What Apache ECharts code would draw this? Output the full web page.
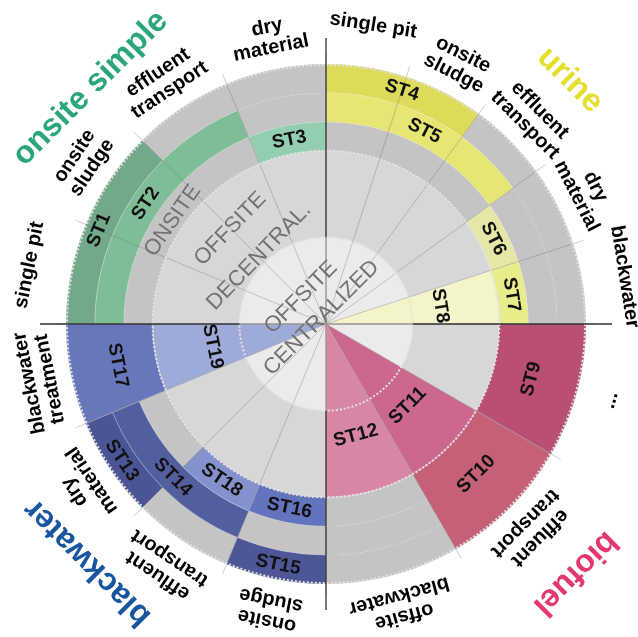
<!DOCTYPE html>
<html><head><meta charset="utf-8">
<style>html,body{margin:0;padding:0;background:#fff}#main{width:638px;height:637px}</style>
<script src="https://cdn.jsdelivr.net/npm/echarts@6/dist/echarts.min.js"></script>
</head><body><div id="main"></div>
<script>
// ---------------- data ----------------
const sectorNames = ['single pit','onsite\nsludge','effluent\ntransport','dry\nmaterial','blackwater',
  '...','effluent\ntransport','offsite\nblackwater',
  'onsite\nsludge','effluent\ntransport','dry\nmaterial','blackwater\ntreatment',
  'single pit','onsite\nsludge','effluent\ntransport','dry\nmaterial'];
const sectorStart = [0,18,36,54,72,90,120,150,180,202.5,225,247.5,270,292.5,315,337.5];
const sectorEnd   = [18,36,54,72,90,120,150,180,202.5,225,247.5,270,292.5,315,337.5,360];

const ringNames = ['OFFSITE\nCENTRALIZED','OFFSITE\nDECENTRAL.','ONSITE'];
const ringInner = [0,3,6,7,8];
const ringOuter = [3,6,7,8,9];

const stNames      = ['ST1','ST2','ST3','ST4','ST5','ST6','ST7','ST8','ST9','ST10','ST11','ST12','ST13','ST14','ST15','ST16','ST17','ST18','ST19'];
const stRingFrom   = [4,3,2,4,3,2,2,0,2,2,0,0,4,3,4,2,2,2,0];
const stRingTo     = [4,3,2,4,3,2,2,1,4,4,1,1,4,3,4,2,4,2,1];
const stSectorFrom = [12,12,15,0,0,3,4,4,5,6,6,7,10,9,8,8,11,9,11];
const stSectorTo   = [13,14,15,1,2,3,4,4,5,6,6,7,10,10,8,8,11,9,11];

const groupNames = ['urine','biofuel','blackwater','onsite simple'];
const groupStart = [0,90,180,270];
const groupEnd   = [90,180,270,360];

// ---------------- styles / layout ----------------
const FONT = "'Liberation Sans', Arial, Helvetica, sans-serif";
const ringColors = ['#ebebeb','#d7d7d7','#c4c4c4','#c4c4c4','#c4c4c4'];
const stColors = ['#71a989','#7ebd96','#93ceb1','#dcdb5a','#e6e673','#e6e6a6','#e8ec8b','#f3f4c7',
  '#b94f74','#c56176','#cc6890','#d885a6','#4b5494','#525e9e','#4d5697','#6373bd','#6877bc','#8591cd','#9eabd8'];
const groupColors = ['#e3df2b','#e4376f','#1a56a0','#2ba57b'];
const OUTER_LABEL_R = 10.83;
const groupLabelR = [11.94, 12.2, 11.67, 11.53];
const ringLabelLayout = [
  {r:0.76, a:318, rot:45, lh:29},
  {r:3.98, a:315, rot:46, lh:40},
  {r:6.4,  a:304, rot:55, lh:24}
];

// ---------------- helpers ----------------
function ctr(api){ return api.coord([0,0]); }
function pxR(api,c,v){ const p = api.coord([v,0]); return Math.hypot(p[0]-c[0], p[1]-c[1]); }
function phiOf(api,c,a){ const p = api.coord([1,a]); return Math.atan2(p[1]-c[1], p[0]-c[0]); }
function tangent(phi){ let r = -(phi + Math.PI/2); return Math.atan2(Math.sin(r), Math.cos(r)); }
function readable(phi){ let r = tangent(phi); if (r > Math.PI/2) r -= Math.PI; else if (r < -Math.PI/2) r += Math.PI; return r; }

const stRows = stNames.map((n,i) => [ringInner[stRingFrom[i]], ringOuter[stRingTo[i]], sectorStart[stSectorFrom[i]], sectorEnd[stSectorTo[i]], stRingFrom[i], stRingTo[i]]);

const chart = echarts.init(document.getElementById('main'), null, {renderer:'canvas'});
chart.setOption({
  animation:false,
  backgroundColor:'#ffffff',
  polar:{center:[326,324], radius:260},
  angleAxis:{type:'value', min:0, max:360, startAngle:90, clockwise:true, show:false},
  radiusAxis:{type:'value', min:0, max:9, show:false},
  series:[
    // base rings
    {type:'custom', coordinateSystem:'polar', silent:true, z:1,
     data: ringInner.map((v,i)=>[v, ringOuter[i]]),
     renderItem(params, api){
       const c = ctr(api);
       return {type:'ring', shape:{cx:c[0], cy:c[1], r0:pxR(api,c,api.value(0)), r:pxR(api,c,api.value(1))},
               style:{fill:ringColors[params.dataIndex]}};
     }},
    // ST segments
    {type:'custom', coordinateSystem:'polar', silent:true, z:2,
     data: stRows,
     renderItem(params, api){
       const c = ctr(api);
       let a0 = phiOf(api,c,api.value(2)), a1 = phiOf(api,c,api.value(3));
       while (a1 <= a0 + 1e-6) a1 += Math.PI*2;
       return {type:'sector', shape:{cx:c[0], cy:c[1], r0:pxR(api,c,api.value(0)), r:pxR(api,c,api.value(1)), startAngle:a0, endAngle:a1, clockwise:true},
               style:{fill:stColors[params.dataIndex], stroke:'rgba(255,255,255,0.3)', lineWidth:0.8}};
     }},
    // radial sector boundaries
    {type:'custom', coordinateSystem:'polar', silent:true, z:3,
     data: sectorStart.map(a=>[a]),
     renderItem(params, api){
       const a = api.value(0);
       const p0 = api.coord([0,a]), p1 = api.coord([9.38,a]);
       return {type:'line', shape:{x1:p0[0], y1:p0[1], x2:p1[0], y2:p1[1]}, style:{stroke:'rgba(110,110,110,0.35)', lineWidth:1}};
     }},
    // dotted ring edges
    {type:'custom', coordinateSystem:'polar', silent:true, z:4,
     data: [[3],[6],[9]],
     renderItem(params, api){
       const c = ctr(api);
       return {type:'circle', shape:{cx:c[0], cy:c[1], r:pxR(api,c,api.value(0)) - (params.dataIndex===2?1:0)},
               style:{fill:'none', stroke:'#e2e2e2', lineWidth:2, lineDash:[2,2]}};
     }},
    // quadrant axes
    {type:'custom', coordinateSystem:'polar', silent:true, z:5,
     data: groupStart.map(a=>[a]),
     renderItem(params, api){
       const a = api.value(0);
       const p0 = api.coord([0,a]), p1 = api.coord([3,a]), p2 = api.coord([9.9,a]);
       return {type:'group', children:[
         {type:'line', shape:{x1:p0[0],y1:p0[1],x2:p1[0],y2:p1[1]}, style:{stroke:'#9a9a9a', lineWidth:1.3}},
         {type:'line', shape:{x1:p1[0],y1:p1[1],x2:p2[0],y2:p2[1]}, style:{stroke:'#333333', lineWidth:1.3}}
       ]};
     }},
    // ring labels
    {type:'custom', coordinateSystem:'polar', silent:true, z:6,
     data: ringNames.map((n,i)=>[ringLabelLayout[i].r, ringLabelLayout[i].a]),
     renderItem(params, api){
       const L = ringLabelLayout[params.dataIndex];
       const p = api.coord([api.value(0), api.value(1)]);
       return {type:'text', x:p[0], y:p[1], rotation:L.rot*Math.PI/180,
               style:{text:ringNames[params.dataIndex], fill:'#727272', fontFamily:FONT, fontSize:22, fontWeight:'normal',
                      align:'center', verticalAlign:'middle', lineHeight:L.lh}};
     }},
    // ST labels
    {type:'custom', coordinateSystem:'polar', silent:true, z:7,
     data: stRows,
     renderItem(params, api){
       const c = ctr(api);
       const from = api.value(4), to = api.value(5);
       let r;
       if (from === 0) r = ringInner[to] + 1;
       else r = (api.value(0) + api.value(1))/2 - (to > from ? 0.15 : 0);
       const am = (api.value(2) + api.value(3))/2;
       const p = api.coord([r, am]);
       return {type:'text', x:p[0], y:p[1], rotation:readable(phiOf(api,c,am)),
               style:{text:stNames[params.dataIndex], fill:'#111', fontFamily:FONT, fontSize:19, fontWeight:'bold', align:'center', verticalAlign:'middle'}};
     }},
    // outer category labels
    {type:'custom', coordinateSystem:'polar', silent:true, z:8,
     data: sectorStart.map((a,i)=>[a, sectorEnd[i]]),
     renderItem(params, api){
       const c = ctr(api);
       const am = (api.value(0) + api.value(1))/2;
       const p = api.coord([OUTER_LABEL_R, am]);
       return {type:'text', x:p[0], y:p[1], rotation:tangent(phiOf(api,c,am)),
               style:{text:sectorNames[params.dataIndex], fill:'#000', fontFamily:FONT, fontSize:20, fontWeight:'bold', align:'center', verticalAlign:'top', lineHeight:21}};
     }},
    // group labels
    {type:'custom', coordinateSystem:'polar', silent:true, z:9,
     data: groupStart.map((a,i)=>[a, groupEnd[i]]),
     renderItem(params, api){
       const c = ctr(api);
       const am = (api.value(0) + api.value(1))/2;
       const p = api.coord([groupLabelR[params.dataIndex], am]);
       return {type:'text', x:p[0], y:p[1], rotation:tangent(phiOf(api,c,am)),
               style:{text:groupNames[params.dataIndex], fill:groupColors[params.dataIndex], fontFamily:FONT, fontSize:32, fontWeight:'bold', align:'center', verticalAlign:'middle'}};
     }}
  ]
});
</script>
</body></html>
